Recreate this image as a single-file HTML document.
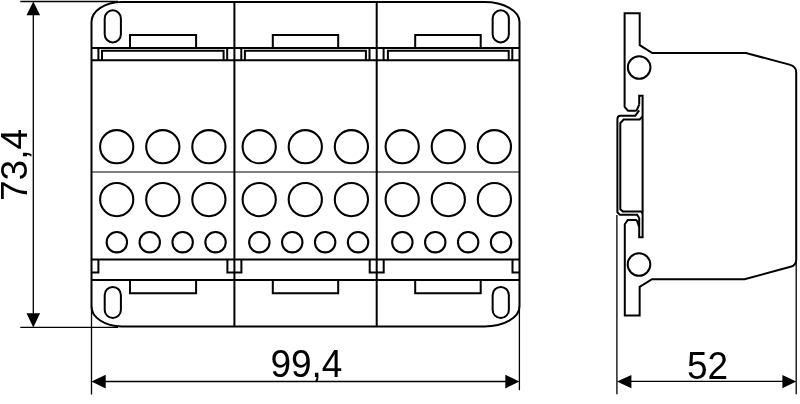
<!DOCTYPE html>
<html><head><meta charset="utf-8"><style>
html,body{margin:0;padding:0;background:#fff;width:800px;height:404px;overflow:hidden}
svg{display:block;filter:grayscale(1)}
text{font-family:"Liberation Sans",sans-serif;fill:#000}
</style></head><body>
<svg width="800" height="404" viewBox="0 0 800 404">
<g stroke="#000" stroke-width="1.3" fill="none">
<path d="M20.3,1.5 H118 M20.3,327.4 H118 M33.3,8 V320"/>
</g>
<path d="M33.3,1.6 L26.5,15.2 H40.1 Z M33.3,327.4 L26.5,313.2 H40.1 Z" fill="#000"/>
<g stroke="#000" stroke-width="1.3" fill="none">
<path d="M91.5,306 V394.6 M519.4,306 V390.3 M100,381.5 H511"/>
</g>
<path d="M91.5,381.5 L105.7,374.7 V388.4 Z M519.4,381.5 L505.3,374.7 V388.4 Z" fill="#000"/>
<g stroke="#000" stroke-width="2.0" fill="none">
<path d="M91.5,22.0 A30,20 0 0 1 121.5,2.0 H484.5 A35,20 0 0 1 519.5,22.0 V306.4 A35,20 0 0 1 484.5,326.4 H121.5 A30,20 0 0 1 91.5,306.4 Z"/>
<path d="M234.4,2.0 V326.4"/>
<path d="M376.7,2.0 V326.4"/>
<path d="M91.5,48.0 H519.5 M91.5,60.3 H519.5 M91.5,259.4 H519.5 M91.5,279.9 H519.5"/>
<path d="M102.0,60.3 V50.8 H223.6 V60.3 M98.4,48 V60.3 M227.20000000000002,48 V60.3"/>
<path d="M244.9,60.3 V50.8 H365.9 V60.3 M241.3,48 V60.3 M369.5,48 V60.3"/>
<path d="M387.9,60.3 V50.8 H508.7 V60.3 M383.59999999999997,48 V60.3 M512.3,48 V60.3"/>
<path d="M91.5,272.5 H98.4 V259.4 M519.5,272.5 H512.5 V259.4"/>
<path d="M227.4,259.4 V272.5 H241.4 V259.4"/>
<path d="M369.7,259.4 V272.5 H383.7 V259.4"/>
<path d="M130.0,48 V34.9 H196.1 V48 M130.0,279.9 V293.2 H196.1 V279.9"/>
<path d="M272.8,48 V34.9 H338.2 V48 M272.8,279.9 V293.2 H338.2 V279.9"/>
<path d="M415.2,48 V34.9 H480.7 V48 M415.2,279.9 V293.2 H480.7 V279.9"/>
<rect x="104.7" y="10.3" width="16.2" height="32.099999999999994" rx="8.1"/>
<rect x="104.7" y="286.9" width="16.2" height="31.100000000000023" rx="8.1"/>
<rect x="492.65" y="10.3" width="16.2" height="32.099999999999994" rx="8.1"/>
<rect x="492.65" y="286.9" width="16.2" height="31.100000000000023" rx="8.1"/>
</g>
<path d="M91.5,172.0 H519.5" stroke="#000" stroke-width="1.2"/>
<g stroke="#000" stroke-width="2.1" fill="none">
<circle cx="116.70" cy="146.7" r="16.6"/>
<circle cx="116.70" cy="199.6" r="16.6"/>
<circle cx="162.80" cy="146.7" r="16.6"/>
<circle cx="162.80" cy="199.6" r="16.6"/>
<circle cx="208.90" cy="146.7" r="16.6"/>
<circle cx="208.90" cy="199.6" r="16.6"/>
<circle cx="116.85" cy="242.2" r="10.2"/>
<circle cx="149.75" cy="242.2" r="10.2"/>
<circle cx="182.65" cy="242.2" r="10.2"/>
<circle cx="215.55" cy="242.2" r="10.2"/>
<circle cx="259.20" cy="146.7" r="16.6"/>
<circle cx="259.20" cy="199.6" r="16.6"/>
<circle cx="305.30" cy="146.7" r="16.6"/>
<circle cx="305.30" cy="199.6" r="16.6"/>
<circle cx="351.40" cy="146.7" r="16.6"/>
<circle cx="351.40" cy="199.6" r="16.6"/>
<circle cx="259.35" cy="242.2" r="10.2"/>
<circle cx="292.25" cy="242.2" r="10.2"/>
<circle cx="325.15" cy="242.2" r="10.2"/>
<circle cx="358.05" cy="242.2" r="10.2"/>
<circle cx="402.20" cy="146.7" r="16.6"/>
<circle cx="402.20" cy="199.6" r="16.6"/>
<circle cx="448.30" cy="146.7" r="16.6"/>
<circle cx="448.30" cy="199.6" r="16.6"/>
<circle cx="494.40" cy="146.7" r="16.6"/>
<circle cx="494.40" cy="199.6" r="16.6"/>
<circle cx="402.35" cy="242.2" r="10.2"/>
<circle cx="435.25" cy="242.2" r="10.2"/>
<circle cx="468.15" cy="242.2" r="10.2"/>
<circle cx="501.05" cy="242.2" r="10.2"/>
</g>
<g stroke="#000" stroke-width="2.0" fill="none" stroke-linejoin="miter">
<path d="M639.2,104.6 V95.7 H642.6 V237.3 H639.2 V218 M639.2,227 L637,220.9 Q636.8,219.9 636,219.9 H627.8 L624.8,224.3 V315.4 H639.65 V286.9 L652,279.2 H744.5 L790.5,266.8 Q796.2,265.2 796.2,259.7 V72 Q796.2,66.5 789.5,64.6 L746,53.1 H652.3 L639.7,45.1 V13.2 H624.6 V106.9 L628,110.7 H635.6 Q636.6,110.6 637,109.6 L639.2,104.6"/>
<circle cx="639.15" cy="67.5" r="11.3"/>
<circle cx="639" cy="264.5" r="11.3"/>
<path d="M639.2,110.3 L635.2,115.8 H620.6 Q617.4,115.8 617.4,119.2 V212.4 L619.9,214.7 H637.1 L639.2,218"/>
<path d="M642.6,116.4 L639.7,119.5 H623.6 L620.3,123.2 V209.2 L622.9,211.6 H641.1 L642.6,213.2"/>
</g>
<g stroke="#000" stroke-width="1.3" fill="none">
<path d="M616.9,215 V394.2 M796.2,262 V394.2 M625,381.4 H788"/>
</g>
<path d="M616.9,381.6 L631.4,374.9 V388.3 Z M796.2,381.6 L782.4,374.9 V388.3 Z" fill="#000"/>
<text transform="translate(306.4,376.9) scale(1,1.042)" font-size="37" text-anchor="middle">99,4</text>
<text transform="translate(707.6,378.7) scale(1,1.042)" font-size="37" text-anchor="middle">52</text>
<text transform="translate(27.2,165) rotate(-90)" font-size="37" text-anchor="middle">73,4</text>
</svg>
</body></html>
